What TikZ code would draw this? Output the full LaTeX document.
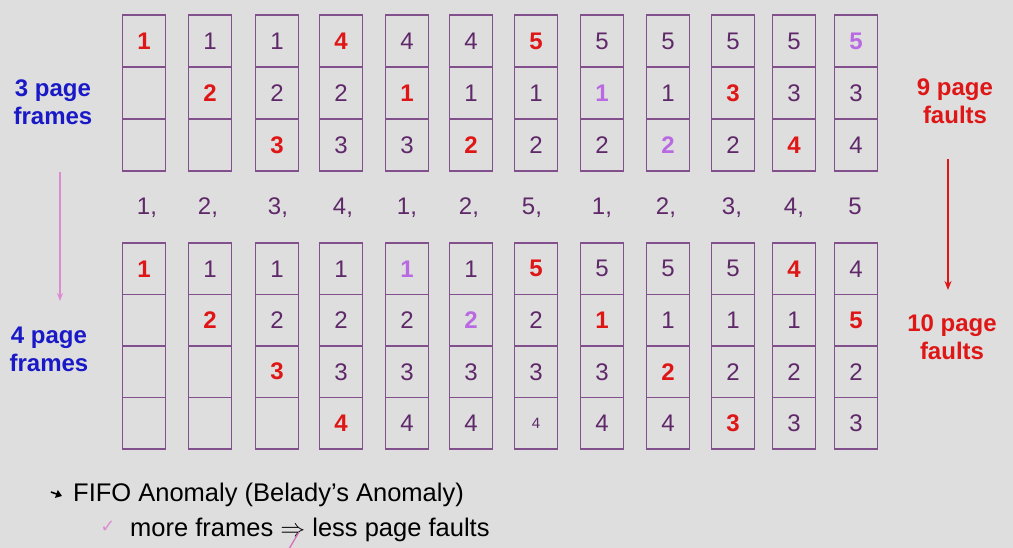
\documentclass[tikz,border=0pt]{standalone}
\usepackage{fontspec}
\setmainfont{Liberation Sans}
\newfontfamily\symfont{DejaVu Sans}
\usetikzlibrary{arrows.meta}
\definecolor{bgc}{RGB}{222,222,222}
\definecolor{boxc}{RGB}{130,80,140}
\definecolor{numc}{RGB}{95,40,105}
\definecolor{redc}{RGB}{222,22,22}
\definecolor{lpc}{RGB}{185,105,225}
\definecolor{bluec}{RGB}{25,25,200}
\definecolor{pinkc}{RGB}{222,140,210}
\newcommand\flt[1]{\textcolor{redc}{\bfseries #1}}
\newcommand\hlt[1]{\textcolor{lpc}{\bfseries #1}}
\newcommand\smalldig[1]{{\fontsize{15}{17}\selectfont #1}}
\begin{document}
\begin{tikzpicture}[x=1pt,y=-1pt,
  cell/.style={draw=boxc, line width=1.3pt, minimum width=43pt, inner sep=0pt,
    font=\fontsize{24}{26}\selectfont, text=numc},
  cellt/.style={cell, minimum height=52pt},
  cellb/.style={cell, minimum height=51.5pt},
  refnum/.style={anchor=base, font=\fontsize{24}{26}\selectfont, text=numc},
  sidelabel/.style={align=center, font=\fontsize{24}{28}\selectfont\bfseries, inner sep=0pt},
  bodytext/.style={anchor=base west, font=\fontsize{25.5}{28}\selectfont, text=black, inner sep=0pt}
]
\fill[bgc] (0,0) rectangle (1013,548);
\useasboundingbox (0,0) rectangle (1013,548);

% top: 3 page frames
\foreach \i/\x/\a/\b/\c in {
  1/144/\flt{1}/{}/{},
  2/210/1/\flt{2}/{},
  3/277/1/2/\flt{3},
  4/341/\flt{4}/2/3,
  5/407/4/\flt{1}/3,
  6/471/4/1/\flt{2},
  7/536/\flt{5}/1/2,
  8/602/5/\hlt{1}/2,
  9/668/5/1/\hlt{2},
  10/733/5/\flt{3}/2,
  11/794/5/3/\flt{4},
  12/856/\hlt{5}/3/4}{
  \node[cellt] (t\i-1) at (\x,41) {\a};
  \node[cellt] (t\i-2) at (\x,93) {\b};
  \node[cellt] (t\i-3) at (\x,145) {\c};
}

% reference string
\foreach \i/\x/\s in {1/147/{1,},2/208/{2,},3/278/{3,},4/343/{4,},5/407/{1,},6/469/{2,},
  7/532/{5,},8/602/{1,},9/666/{2,},10/732/{3,},11/794/{4,},12/855/{5}}{
  \node[refnum] (r\i) at (\x,215) {\s};
}

% bottom: 4 page frames
\foreach \i/\x/\a/\b/\c/\d in {
  1/144/\flt{1}/{}/{}/{},
  2/210/1/\flt{2}/{}/{},
  3/277/1/2/\flt{3}/{},
  4/341/1/2/3/\flt{4},
  5/407/\hlt{1}/2/3/4,
  6/471/1/\hlt{2}/3/4,
  7/536/\flt{5}/2/3/\smalldig{4},
  8/602/5/\flt{1}/3/4,
  9/668/5/1/\flt{2}/4,
  10/733/5/1/2/\flt{3},
  11/794/\flt{4}/1/2/3,
  12/856/4/\flt{5}/2/3}{
  \node[cellb] (b\i-1) at (\x,268.75) {\a};
  \node[cellb] (b\i-2) at (\x,320.25) {\b};
  \node[cellb] (b\i-3) at (\x,371.75) {\c};
  \node[cellb] (b\i-4) at (\x,423.25) {\d};
}

% side labels
\node[sidelabel, text=bluec] (l3) at (53,102) {3 page\\frames};
\node[sidelabel, text=bluec] (l4) at (49,349) {4 page\\frames};
\node[sidelabel, text=redc] (f9) at (955,101) {9 page\\faults};
\node[sidelabel, text=redc] (f10) at (952,337) {10 page\\faults};

\coordinate (pa1) at (60,172);
\coordinate (pa2) at (60,301);
\draw[pinkc, line width=1.4pt, -{Stealth[length=8pt,width=6pt]}] (pa1) -- (pa2);
\coordinate (ra1) at (948,159);
\coordinate (ra2) at (948,290);
\draw[redc, line width=2.4pt, -{Stealth[length=9pt,width=7pt]}] (ra1) -- (ra2);

% bottom text
\coordinate (bs1) at (51,492);
\coordinate (bs2) at (62,496);
\draw[black, line width=1.6pt, -{Triangle[length=6pt,width=8pt]}] (bs1) -- (bs2);
\node[bodytext] (fifo) at (73,501) {FIFO Anomaly (Belady’s Anomaly)};
\node[anchor=base, text=pinkc, font=\symfont\fontsize{18}{20}\selectfont, inner sep=0pt] (chk) at (108,532) {✓};
\node[bodytext] (more) at (130,536) {more frames $\Rightarrow$ less page faults};
\coordinate (sl1) at (299,532);
\coordinate (sl2) at (289,549);
\draw[pinkc!80!purple, line width=1.3pt] (sl1) -- (sl2);
\end{tikzpicture}
\end{document}
